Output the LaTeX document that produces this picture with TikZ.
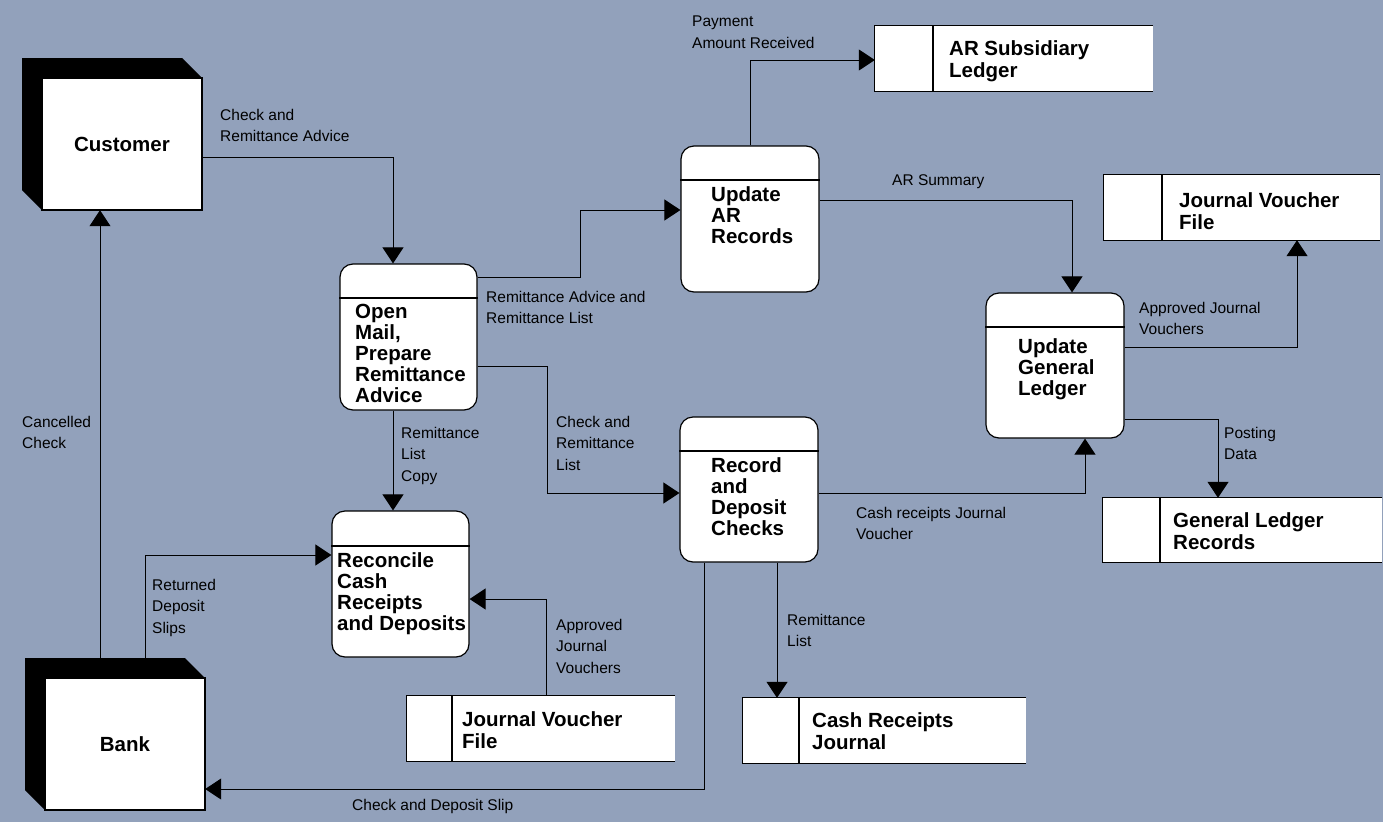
\documentclass[tikz,border=0pt]{standalone}
\usepackage{fontspec}
\setmainfont{Liberation Sans}
\usetikzlibrary{arrows.meta}
\definecolor{bg}{RGB}{146,161,187}
\begin{document}
\begin{tikzpicture}[x=1pt,y=-1pt,
  lbl/.style={anchor=north west, inner sep=0pt, align=left, font=\fontsize{15.5}{21.5}\selectfont},
  ttl/.style={anchor=north west, inner sep=0pt, align=left, font=\fontsize{20.5}{21}\selectfont\bfseries},
  sttl/.style={anchor=north west, inner sep=0pt, align=left, font=\fontsize{20.5}{22}\selectfont\bfseries},
  flow/.style={line width=1pt, -{Triangle[width=21pt,length=16pt]}},
  proc/.style={draw, fill=white, line width=1.2pt, rounded corners=13pt, minimum width=137pt, minimum height=146pt, inner sep=0pt},
  storebg/.style={fill=white, inner sep=0pt, minimum height=65pt},
  edgeline/.style={line width=1.2pt},
  ent/.style={inner sep=0pt, minimum width=180pt, minimum height=152pt},
  face/.style={draw, fill=white, line width=1.2pt, minimum width=160pt, minimum height=132pt, inner sep=0pt, font=\fontsize{20.5}{21}\selectfont\bfseries}
]
\fill[bg] (0,0) rectangle (1383,822);
\useasboundingbox (0,0) rectangle (1383,822);

% ---------- entities ----------
\fill[black] (22,58) -- (182,58) -- (202,78) -- (202,210) -- (42,210) -- (22,190) -- cycle;
\node[face] (custface) at (122,144) {Customer};
\node[ent] (cust) at (112,134) {};

\fill[black] (25,658) -- (185,658) -- (205,678) -- (205,810) -- (45,810) -- (25,790) -- cycle;
\node[face] (bankface) at (125,744) {Bank};
\node[ent] (bank) at (115,734) {};

% ---------- processes ----------
\node[proc] (om) at (408.5,337) {};
\draw[edgeline] (om.west |- 0,298) -- (om.east |- 0,298);
\node[ttl] (omt) at (355,303.5) {Open\\Mail,\\Prepare\\Remittance\\Advice};

\node[proc, minimum width=138pt] (uar) at (750,219) {};
\draw[edgeline] (uar.west |- 0,180) -- (uar.east |- 0,180);
\node[ttl] (uart) at (711,186.5) {Update\\AR\\Records};

\node[proc, minimum width=138pt, minimum height=145pt] (rec) at (749,489.5) {};
\draw[edgeline] (rec.west |- 0,451) -- (rec.east |- 0,451);
\node[ttl] (rect) at (711,457.5) {Record\\and\\Deposit\\Checks};

\node[proc] (recon) at (400.5,584) {};
\draw[edgeline] (recon.west |- 0,546) -- (recon.east |- 0,546);
\node[ttl] (recont) at (337,552.5) {Reconcile\\Cash\\Receipts\\and Deposits};

\node[proc, minimum width=138pt, minimum height=145pt] (ugl) at (1055,365.5) {};
\draw[edgeline] (ugl.west |- 0,327) -- (ugl.east |- 0,327);
\node[ttl] (uglt) at (1018,338.5) {Update\\General\\Ledger};

% ---------- data stores ----------
\node[storebg, minimum width=278pt] (arl) at (1014,58.5) {};
\draw[edgeline] (arl.north east) -- (arl.north west) -- (arl.south west) -- (arl.south east);
\draw[edgeline] (arl.north west -| 933,0) -- (arl.south west -| 933,0);
\node[sttl] (arlt) at (949,40.5) {AR Subsidiary\\Ledger};

\node[storebg, minimum width=276pt] (jvt) at (1242,207.5) {};
\draw[edgeline] (jvt.north east) -- (jvt.north west) -- (jvt.south west) -- (jvt.south east);
\draw[edgeline] (jvt.north west -| 1162,0) -- (jvt.south west -| 1162,0);
\node[sttl] (jvtt) at (1179,192.5) {Journal Voucher\\File};

\node[storebg, minimum width=279pt, minimum height=64pt] (glr) at (1242.5,530) {};
\draw[edgeline] (glr.north east) -- (glr.north west) -- (glr.south west) -- (glr.south east);
\draw[edgeline] (glr.north west -| 1160,0) -- (glr.south west -| 1160,0);
\node[sttl] (glrt) at (1173,512.5) {General Ledger\\Records};

\node[storebg, minimum width=268pt] (jvb) at (541,728.5) {};
\draw[edgeline] (jvb.north east) -- (jvb.north west) -- (jvb.south west) -- (jvb.south east);
\draw[edgeline] (jvb.north west -| 452,0) -- (jvb.south west -| 452,0);
\node[sttl] (jvbt) at (462,711.5) {Journal Voucher\\File};

\node[storebg, minimum width=283pt] (crj) at (884.5,730.5) {};
\draw[edgeline] (crj.north east) -- (crj.north west) -- (crj.south west) -- (crj.south east);
\draw[edgeline] (crj.north west -| 799,0) -- (crj.south west -| 799,0);
\node[sttl] (crjt) at (812,712.5) {Cash Receipts\\Journal};

% ---------- flows ----------
\draw[flow] (cust.east |- 0,157) -| (om.north -| 393,0);
\draw[flow] (om.east |- 0,277) -- (580,277) |- (uar.west |- 0,210);
\draw[flow] (om.east |- 0,366) -- (547,366) |- (rec.west |- 0,493);
\draw[flow] (om.south -| 393,0) -- (recon.north -| 393,0);
\draw[flow] (uar.north -| 750,0) |- (arl.west |- 0,60);
\draw[flow] (uar.east |- 0,200) -| (ugl.north -| 1072,0);
\draw[flow] (ugl.east |- 0,347) -| (jvt.south -| 1297,0);
\draw[flow] (ugl.east |- 0,419) -| (glr.north -| 1218,0);
\draw[flow] (rec.east |- 0,493) -| (ugl.south -| 1085,0);
\draw[flow] (rec.south -| 777,0) -- (crj.north -| 777,0);
\draw[flow] (rec.south -| 704,0) |- (bank.east |- 0,789);
\draw[flow] (jvb.north -| 546,0) |- (recon.east |- 0,599);
\draw[flow] (bank.north -| 100,0) -- (cust.south -| 100,0);
\draw[flow] (bank.north -| 145,0) |- (recon.west |- 0,555);

% ---------- labels ----------
\node[lbl] (l1) at (692,16) {Payment\\Amount Received};
\node[lbl] (l2) at (220,109) {Check and\\Remittance Advice};
\node[lbl] (l3) at (892,174) {AR Summary};
\node[lbl] (l4) at (486,291) {Remittance Advice and\\Remittance List};
\node[lbl] (l5) at (1139,302) {Approved Journal\\Vouchers};
\node[lbl] (l6) at (556,416) {Check and\\Remittance\\List};
\node[lbl] (l7) at (401,427) {Remittance\\List\\Copy};
\node[lbl] (l8) at (22,416) {Cancelled\\Check};
\node[lbl] (l9) at (1224,427) {Posting\\Data};
\node[lbl] (l10) at (856,507) {Cash receipts Journal\\Voucher};
\node[lbl] (l11) at (152,579) {Returned\\Deposit\\Slips};
\node[lbl] (l12) at (787,614) {Remittance\\List};
\node[lbl] (l13) at (556,619) {Approved\\Journal\\Vouchers};
\node[lbl] (l14) at (352,799) {Check and Deposit Slip};
\end{tikzpicture}
\end{document}
